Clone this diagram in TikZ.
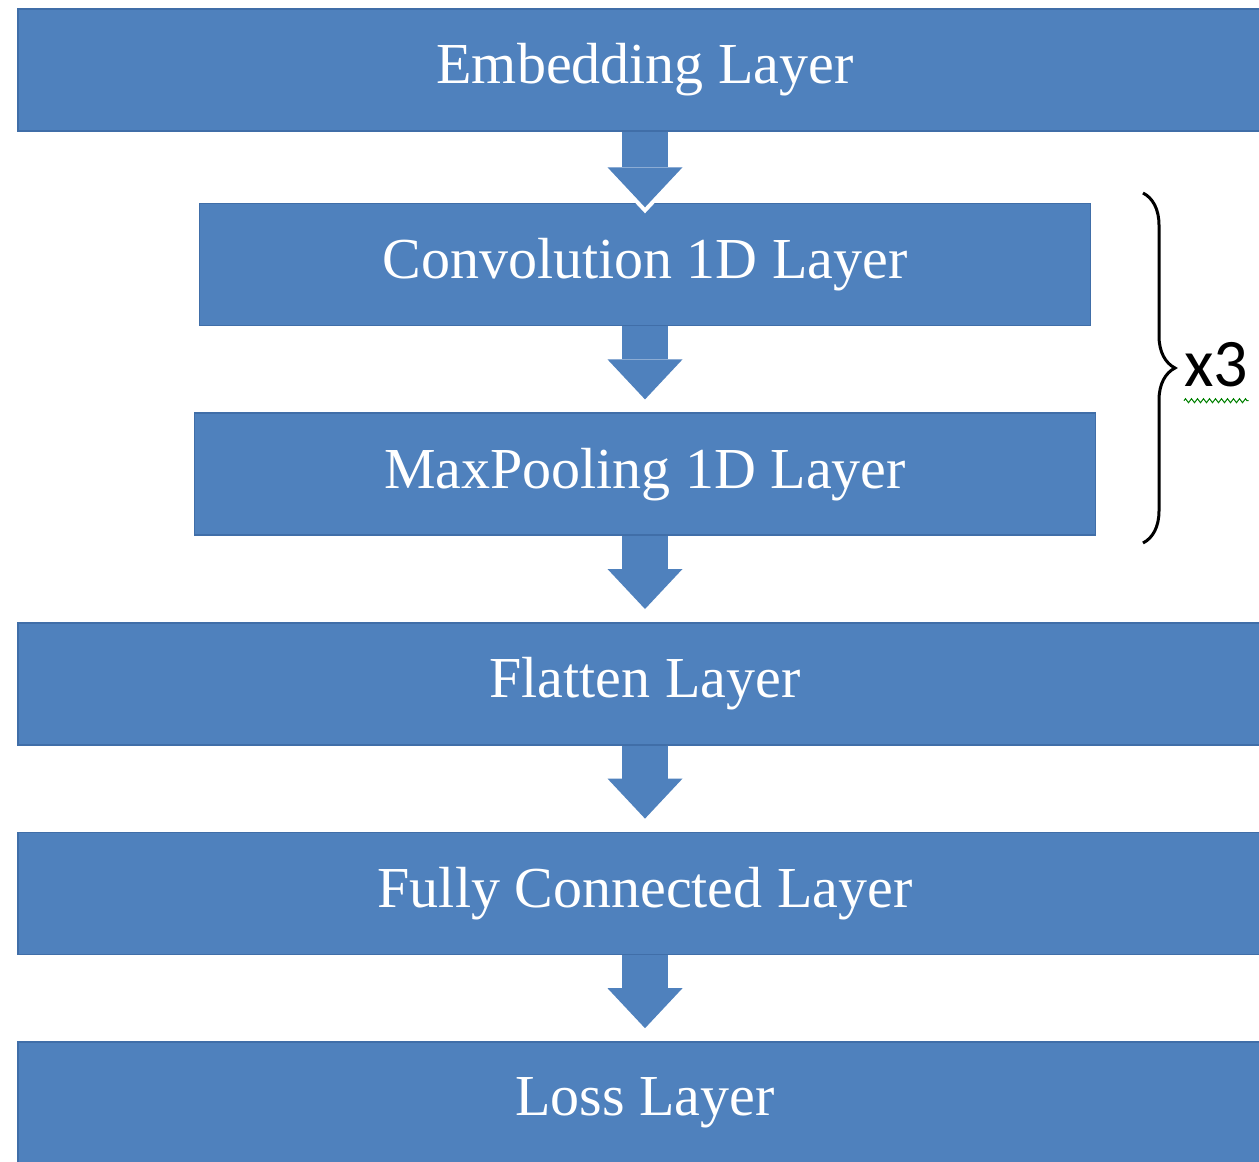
\documentclass[tikz,border=0pt]{standalone}
\usepackage{fontspec}
\setmainfont{Liberation Serif}
\newfontfamily\calib{Carlito}
\usepackage{tikz}
\usetikzlibrary{positioning,arrows.meta,decorations.pathreplacing,decorations.pathmorphing}
\definecolor{layerblue}{RGB}{79,129,189}
\definecolor{layeredge}{RGB}{64,110,168}

\begin{document}
\begin{tikzpicture}[x=0.5pt, y=-0.5pt, node distance=43pt,
        flow/.style={line width=23pt, draw=layerblue,
          -{Triangle[width=37.5pt,length=20pt,line width=0pt]}},
        halo/.style={line width=23pt, draw=white,
          -{Triangle[width=45pt,length=24pt,line width=0pt]}}]
      \tikzstyle{layer} = [rectangle, fill=layerblue, draw=layeredge, line width=0.8pt,
        minimum height=61pt, text=white, font=\fontsize{29pt}{34pt}\selectfont]
      \tikzstyle{wide} = [layer, minimum width=627pt]
      \useasboundingbox (0,0) rectangle (1259,1162);
      \clip (0,0) rectangle (1259,1162);
      % layers
      \node (emb) [wide] at (645,70) {Embedding Layer};
      \node (conv) [layer, minimum width=445.5pt, below=35.5pt of emb] {Convolution 1D Layer};
      \node (pool) [layer, minimum width=450.5pt, below=of conv] {MaxPooling 1D Layer};
      \node (flat) [wide, below=of pool] {Flatten Layer};
      \node (fc) [wide, below=of flat] {Fully Connected Layer};
      \node (loss) [wide, below=of fc] {Loss Layer};
      % arrows
      \foreach \a/\b/\s in {emb/conv/-2.25pt, conv/pool/6.5pt, pool/flat/6.5pt,
          flat/fc/6.5pt, fc/loss/6.5pt} {
        \draw[halo, shorten >=\s-3pt] (\a.south) -- (\b.north);
        \draw[flow, shorten >=\s] (\a.south) -- (\b.north);
      }
      % repeat brace
      \coordinate (braceTop) at (1143,193);
      \coordinate (braceBot) at (1143,543);
      \draw[line width=1.5pt, decorate, decoration={brace, amplitude=16pt}]
        (braceTop) -- (braceBot);
      \node (times) [anchor=west, inner sep=0pt, font=\calib\fontsize{34pt}{40pt}\selectfont]
        at (1184,365) {x3};
      \draw[green!50!black, line width=0.5pt, decorate,
          decoration={zigzag, segment length=3pt, amplitude=1pt}]
        ([yshift=-6.5pt]times.south west) -- ([yshift=-6.5pt]times.south east);
    \end{tikzpicture}
\end{document}
